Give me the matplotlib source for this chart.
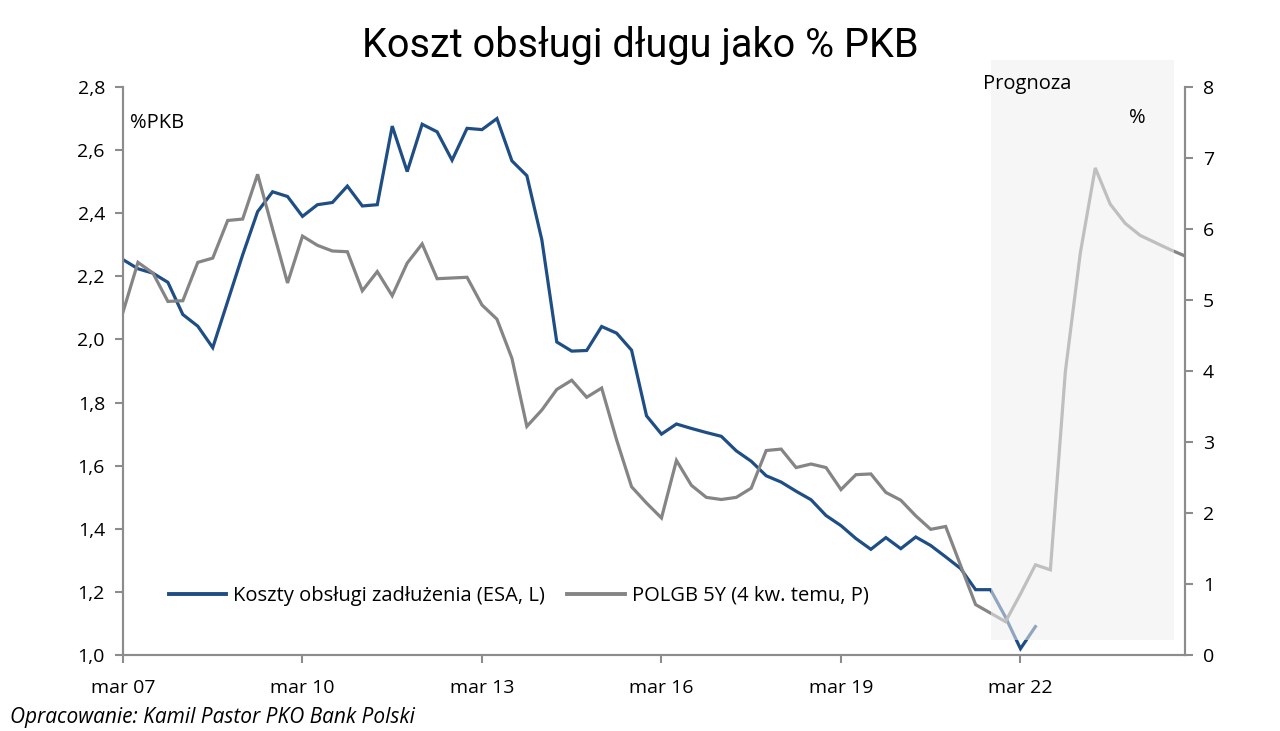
import numpy as np
import matplotlib
matplotlib.use("Agg")
import matplotlib.pyplot as plt
from matplotlib.patches import Rectangle
from matplotlib.lines import Line2D

# koszty obslugi zadluzenia (ESA), % PKB, kwartalnie od 1q07
koszty = [2.253, 2.224, 2.21, 2.181, 2.079, 2.042, 1.974, 2.121, 2.268, 2.405,
          2.468, 2.453, 2.39, 2.427, 2.434, 2.486, 2.423, 2.427, 2.676, 2.532,
          2.682, 2.658, 2.568, 2.669, 2.665, 2.70, 2.566, 2.519, 2.316, 1.992,
          1.963, 1.965, 2.041, 2.02, 1.966, 1.758, 1.70, 1.732, 1.718, 1.705,
          1.693, 1.647, 1.614, 1.568, 1.548, 1.519, 1.492, 1.442, 1.41, 1.369,
          1.335, 1.372, 1.337, 1.374, 1.347, 1.311, 1.274, 1.207, 1.207, 1.12,
          1.02, 1.09]

# POLGB 5Y przesuniete o 4 kwartaly, %
polgb = [4.83, 5.53, 5.38, 4.98, 4.99, 5.53, 5.59, 6.12, 6.14, 6.77,
         6.00, 5.24, 5.90, 5.77, 5.69, 5.68, 5.13, 5.40, 5.06, 5.52,
         5.79, 5.30, 5.31, 5.32, 4.93, 4.73, 4.18, 3.22, 3.45, 3.74,
         3.87, 3.63, 3.76, 3.03, 2.37, 2.14, 1.93, 2.74, 2.39, 2.22,
         2.19, 2.22, 2.35, 2.88, 2.90, 2.64, 2.69, 2.64, 2.33, 2.54,
         2.55, 2.29, 2.18, 1.96, 1.77, 1.81, 1.26, 0.71, 0.59, 0.47,
         0.86, 1.27, 1.20, 3.99, 5.66, 6.86, 6.35, 6.08, 5.91, 5.81,
         5.71, 5.62]

tick_labels = ["mar 07", "mar 10", "mar 13", "mar 16", "mar 19", "mar 22"]
left_ticks = [1.0, 1.2, 1.4, 1.6, 1.8, 2.0, 2.2, 2.4, 2.6, 2.8]
right_ticks = [0, 1, 2, 3, 4, 5, 6, 7, 8]

# okres prognozy (indeksy kwartalow)
prog_start, prog_end = 58, 70.25

BLUE = "#1f4e85"
GREY = "#858585"
AXC = "#8c8c8c"
FONT = ["Open Sans", "DejaVu Sans"]

plt.rcParams["font.family"] = FONT

fig = plt.figure(figsize=(12.8, 7.31), dpi=100)
ax = fig.add_axes([123 / 1280, 1 - 655 / 731, (1185 - 123) / 1280, (655 - 87) / 731])
ax2 = ax.twinx()

x1 = np.arange(len(koszty))
x2 = np.arange(len(polgb))
ax.plot(x1, koszty, color=BLUE, lw=2.3, solid_joinstyle="miter")
ax2.plot(x2, polgb, color=GREY, lw=2.3, solid_joinstyle="miter")

ax.set_xlim(0, len(polgb) - 1)
ax.set_ylim(1.0, 2.8)
ax2.set_ylim(0, 8)

ax.set_xticks(np.arange(len(tick_labels)) * 12)
ax.set_xticklabels(tick_labels)
ax.set_yticks(left_ticks)
ax.set_yticklabels([f"{v:.1f}".replace(".", ",") for v in left_ticks])
ax2.set_yticks(right_ticks)

for a in (ax, ax2):
    for s in a.spines.values():
        s.set_color(AXC)
        s.set_linewidth(1.5)
    a.spines["top"].set_visible(False)
    a.tick_params(colors=AXC, labelcolor="black", labelsize=14, length=6, width=1.5, direction="out")
ax.tick_params(axis="x", pad=11)
ax.tick_params(axis="y", pad=7)
ax2.tick_params(axis="y", pad=7)

# polprzezroczyste pole prognozy na liniach
shade = Rectangle((prog_start, 0.026), prog_end - prog_start, 1.022,
                  transform=ax2.get_xaxis_transform(), facecolor="#efefef",
                  alpha=0.55, lw=0, zorder=10, clip_on=False)
ax2.add_patch(shade)

handles = [Line2D([], [], color=BLUE, lw=2.8), Line2D([], [], color=GREY, lw=2.8)]
ax2.legend(handles, ["Koszty obsługi zadłużenia (ESA, L)", "POLGB 5Y (4 kw. temu, P)"],
           loc="center left", bbox_to_anchor=(0.026, 0.104), ncol=2, frameon=False,
           fontsize=14.5, handlelength=2.85, handletextpad=0.35, columnspacing=1.1)

fig.text(0.5, 0.938, "Koszt obsługi długu jako % PKB", ha="center", va="center",
         fontsize=28.5, family=["Roboto", "DejaVu Sans"])
fig.text(130 / 1280, 1 - 123 / 731, "%PKB", ha="left", va="center", fontsize=14.5)
fig.text(983 / 1280, 1 - 84 / 731, "Prognoza", ha="left", va="center", fontsize=14.5)
fig.text(1137 / 1280, 1 - 118 / 731, "%", ha="center", va="center", fontsize=14.5)
fig.text(10 / 1280, 1 - 717 / 731, "Opracowanie: Kamil Pastor PKO Bank Polski",
         ha="left", va="center", fontsize=15, style="italic")

fig.savefig("out.png", dpi=100)
